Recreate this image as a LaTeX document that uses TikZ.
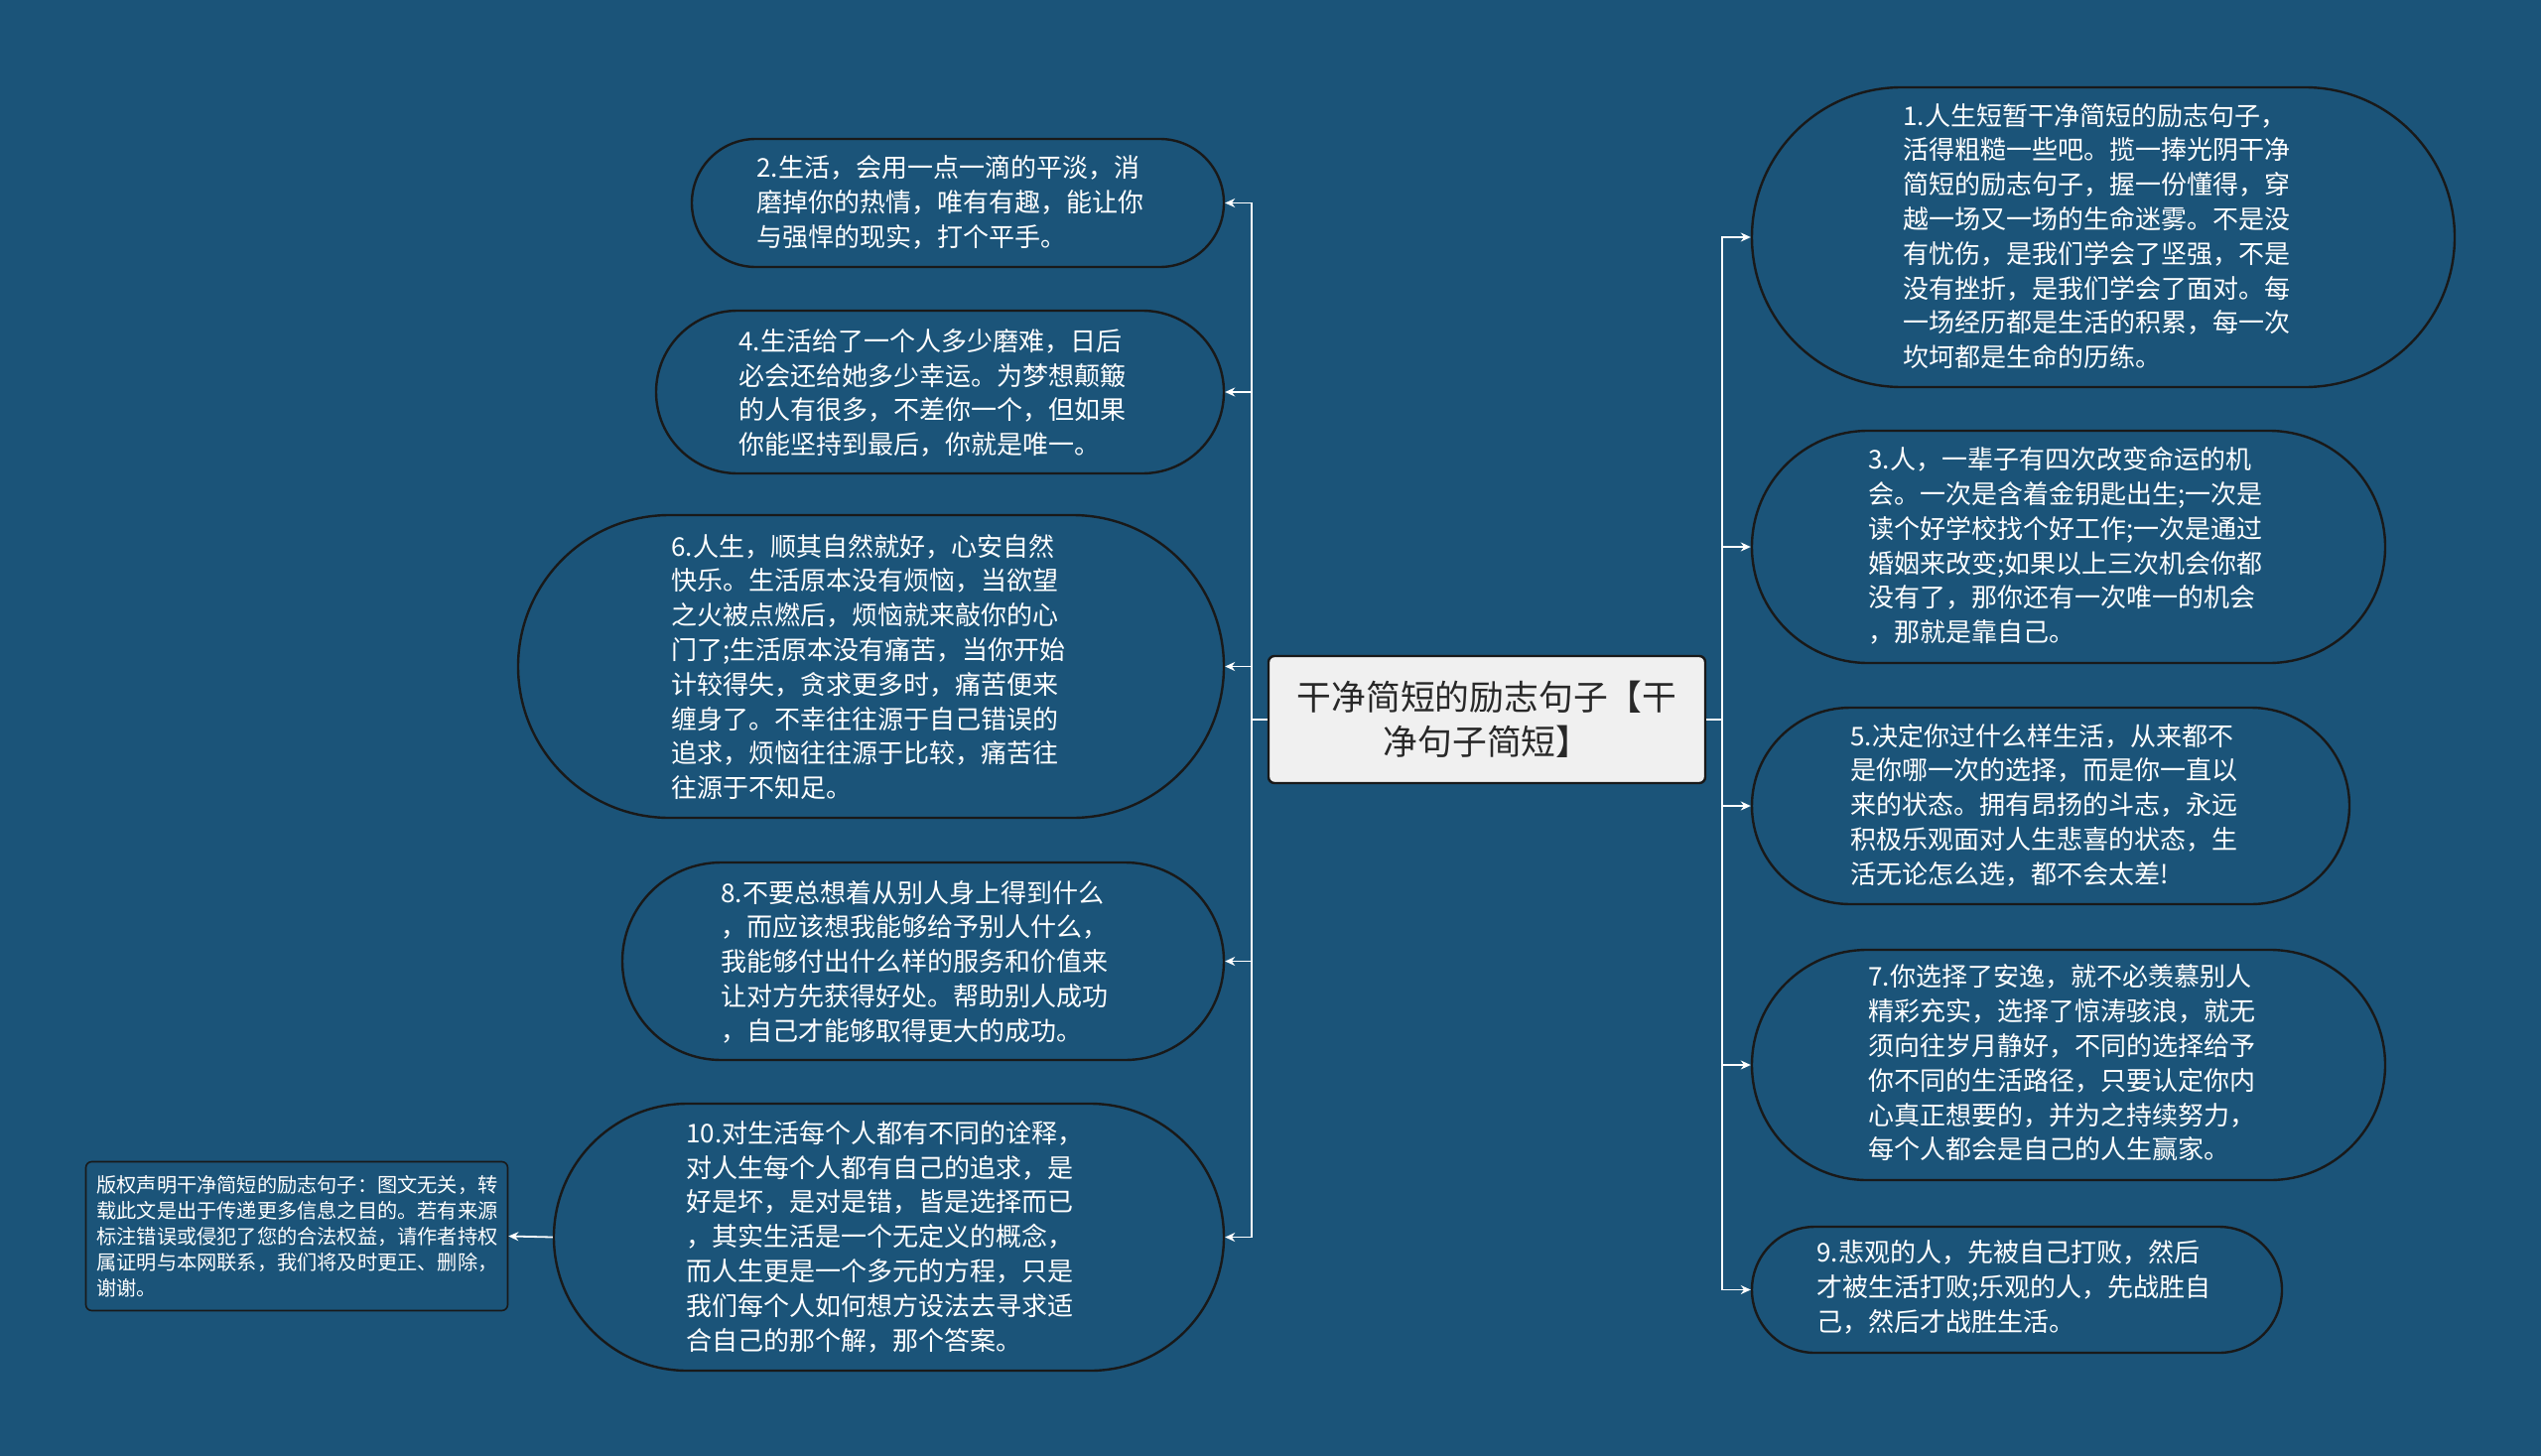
\documentclass[tikz,border=0pt]{standalone}
\usepackage{fontspec}
\setmainfont{Noto Sans CJK SC}
\usetikzlibrary{arrows.meta,shapes.misc}

\begin{document}
\begin{tikzpicture}[x=0.5pt, y=-0.5pt,
    bolla/.style={rounded rectangle, draw=black!90, line width=1.2pt,
        fill=sfondo, inner sep=0pt},
    testo/.style={anchor=west, align=left, inner sep=0pt, text=white,
        font=\fontsize{13}{17.4}\selectfont},
    freccia/.style={draw=white, line width=0.9pt,
        -{Stealth[length=5pt,width=4.5pt]}}]
\definecolor{sfondo}{RGB}{27,84,121}
\definecolor{radicefill}{RGB}{240,240,240}
\definecolor{scuro}{RGB}{40,40,40}

% ======================================================
% sfondo
% ======================================================
\useasboundingbox (0,0) rectangle (2560,1467);
\fill[sfondo] (0,0) rectangle (2560,1467);

% radice
\node[rectangle,
    draw=black!90,
    line width=1.2pt,
    rounded corners=3pt,
    fill=radicefill,
    text=scuro,
    align=center,
    font=\fontsize{17.4}{22.5}\selectfont,
    minimum width=220pt,
    minimum height=64pt] (radice) at (1498,725) {干净简短的励志句子【干\\净句子简短】};

% ======================================================
% RAMI SINISTRA
% ======================================================
\node[bolla, minimum width=268pt, minimum height=64.5pt] (n2) at (965,204.5) {};
\node[testo] (t2) at (762,204) {2.生活，会用一点一滴的平淡，消\\
磨掉你的热情，唯有有趣，能让你\\
与强悍的现实，打个平手。};

\node[bolla, minimum width=286pt, minimum height=82pt] (n4) at (947,395) {};
\node[testo] (t4) at (744,396) {4.生活给了一个人多少磨难，日后\\
必会还给她多少幸运。为梦想颠簸\\
的人有很多，不差你一个，但如果\\
你能坚持到最后，你就是唯一。};

\node[bolla, minimum width=355.5pt, minimum height=152.5pt] (n6) at (877.5,671.5) {};
\node[testo] (t6) at (676,672) {6.人生，顺其自然就好，心安自然\\
快乐。生活原本没有烦恼，当欲望\\
之火被点燃后，烦恼就来敲你的心\\
门了;生活原本没有痛苦，当你开始\\
计较得失，贪求更多时，痛苦便来\\
缠身了。不幸往往源于自己错误的\\
追求，烦恼往往源于比较，痛苦往\\
往源于不知足。};

\node[bolla, minimum width=303pt, minimum height=99.5pt] (n8) at (930,968.5) {};
\node[testo] (t8) at (726,969) {8.不要总想着从别人身上得到什么\\
，而应该想我能够给予别人什么，\\
我能够付出什么样的服务和价值来\\
让对方先获得好处。帮助别人成功\\
，自己才能够取得更大的成功。};

\node[bolla, minimum width=337.5pt, minimum height=134.5pt] (n10) at (895.5,1246.5) {};
\node[testo] (t10) at (691,1246) {10.对生活每个人都有不同的诠释，\\
对人生每个人都有自己的追求，是\\
好是坏，是对是错，皆是选择而已\\
，其实生活是一个无定义的概念，\\
而人生更是一个多元的方程，只是\\
我们每个人如何想方设法去寻求适\\
合自己的那个解，那个答案。};

% copyright
\node[rectangle, draw=black!90, line width=0.8pt, rounded corners=3pt,
    fill=sfondo, inner sep=0pt,
    minimum width=212.5pt, minimum height=75pt] (cp) at (299,1245.5) {};
\node[testo, font=\fontsize{10.1}{13}\selectfont] (tcp) at (97,1246) {版权声明干净简短的励志句子：图文无关，转\\
载此文是出于传递更多信息之目的。若有来源\\
标注错误或侵犯了您的合法权益，请作者持权\\
属证明与本网联系，我们将及时更正、删除，\\
谢谢。};

% ======================================================
% RAMI DESTRA
% ======================================================
\node[bolla, minimum width=354pt, minimum height=151pt] (n1) at (2119,239) {};
\node[testo] (t1) at (1917,238) {1.人生短暂干净简短的励志句子，\\
活得粗糙一些吧。揽一捧光阴干净\\
简短的励志句子，握一份懂得，穿\\
越一场又一场的生命迷雾。不是没\\
有忧伤，是我们学会了坚强，不是\\
没有挫折，是我们学会了面对。每\\
一场经历都是生活的积累，每一次\\
坎坷都是生命的历练。};

\node[bolla, minimum width=319pt, minimum height=117pt] (n3) at (2084,551) {};
\node[testo] (t3) at (1882,550) {3.人，一辈子有四次改变命运的机\\
会。一次是含着金钥匙出生;一次是\\
读个好学校找个好工作;一次是通过\\
婚姻来改变;如果以上三次机会你都\\
没有了，那你还有一次唯一的机会\\
，那就是靠自己。};

\node[bolla, minimum width=301pt, minimum height=99pt] (n5) at (2066,812) {};
\node[testo] (t5) at (1864,811) {5.决定你过什么样生活，从来都不\\
是你哪一次的选择，而是你一直以\\
来的状态。拥有昂扬的斗志，永远\\
积极乐观面对人生悲喜的状态，生\\
活无论怎么选，都不会太差!};

\node[bolla, minimum width=319pt, minimum height=116pt] (n7) at (2084,1073) {};
\node[testo] (t7) at (1882,1071) {7.你选择了安逸，就不必羡慕别人\\
精彩充实，选择了惊涛骇浪，就无\\
须向往岁月静好，不同的选择给予\\
你不同的生活路径，只要认定你内\\
心真正想要的，并为之持续努力，\\
每个人都会是自己的人生赢家。};

\node[bolla, minimum width=267pt, minimum height=63.5pt] (n9) at (2032,1299.5) {};
\node[testo] (t9) at (1830,1297) {9.悲观的人，先被自己打败，然后\\
才被生活打败;乐观的人，先战胜自\\
己，然后才战胜生活。};

% collegamenti
\foreach \n in {n2,n4,n6,n8,n10} {
    \draw[freccia] (radice.west) -- ++(-16,0) |- (\n.east);
}
\foreach \n in {n1,n3,n5,n7,n9} {
    \draw[freccia] (radice.east) -- ++(16,0) |- (\n.west);
}
\draw[freccia] (n10.west) -- (cp.east);

\end{tikzpicture}
\end{document}
